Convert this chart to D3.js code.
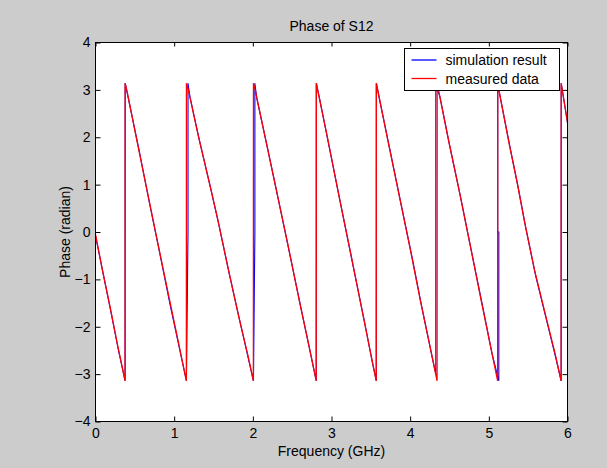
<!DOCTYPE html>
<html>
<head>
<meta charset="utf-8">
<script src="https://cdn.jsdelivr.net/npm/d3@7"></script>
<style>
  body { margin: 0; background: #cccccc; }
  svg { display: block; }
  text { font-family: "Liberation Sans", Arial, sans-serif; font-size: 14px; fill: #000; }
</style>
</head>
<body>
<svg id="chart" width="607" height="468"></svg>
<script>
// measured data (red), frequency in GHz / phase in radian
var measFreq = [0, 0.09, 0.19, 0.28, 0.376,
  0.377, 0.40, 0.52, 0.66, 0.80, 0.94, 1.05, 1.155,
  1.156, 1.18, 1.30, 1.45, 1.55, 1.68, 1.82, 1.93, 2.007,
  2.008, 2.03, 2.15, 2.30, 2.45, 2.60, 2.72, 2.806,
  2.807, 2.83, 2.95, 3.10, 3.25, 3.40, 3.50, 3.569,
  3.570, 3.59, 3.72, 3.86, 4.00, 4.13, 4.25, 4.342,
  4.343, 4.36, 4.48, 4.62, 4.76, 4.90, 5.02, 5.112,
  5.113, 5.13, 5.26, 5.36, 5.45, 5.58, 5.72, 5.84, 5.919,
  5.920, 6.0];
var measPhase = [-0.05, -0.82, -1.62, -2.38, -3.14,
  3.14, 2.98, 1.98, 0.84, -0.30, -1.42, -2.30, -3.14,
  3.14, 3.00, 2.08, 1.02, 0.30, -0.72, -1.78, -2.55, -3.14,
  3.14, 3.00, 2.05, 0.88, -0.30, -1.52, -2.45, -3.14,
  3.14, 2.95, 1.98, 0.72, -0.50, -1.75, -2.58, -3.14,
  3.14, 2.98, 1.90, 0.78, -0.35, -1.45, -2.40, -3.14,
  3.14, 3.00, 2.00, 0.90, -0.25, -1.42, -2.40, -3.14,
  3.14, 2.98, 1.85, 1.05, 0.25, -0.80, -1.75, -2.55, -3.14,
  3.14, 2.32];

// simulation result (blue)
var simFreq = [0, 0.10, 0.20, 0.29, 0.376,
  0.377, 0.42, 0.55, 0.68, 0.82, 0.95, 1.07, 1.156,
  1.176, 1.176, 1.20, 1.32, 1.47, 1.57, 1.70, 1.84, 1.95, 2.008,
  2.026, 2.026, 2.05, 2.17, 2.32, 2.47, 2.62, 2.74, 2.806,
  2.807, 2.85, 2.97, 3.12, 3.27, 3.42, 3.52, 3.569,
  3.570, 3.61, 3.74, 3.88, 4.02, 4.15, 4.27, 4.326,
  4.326, 4.326, 4.38, 4.50, 4.64, 4.78, 4.92, 5.04, 5.127,
  5.127, 5.113, 5.113, 5.15, 5.28, 5.38, 5.47, 5.60, 5.74, 5.86, 5.919,
  5.920, 6.0];
var simPhase = [-0.08, -0.90, -1.72, -2.48, -3.14,
  3.14, 2.80, 1.76, 0.66, -0.47, -1.55, -2.48, -3.14,
  0, 3.14, 2.86, 1.94, 0.88, 0.14, -0.88, -1.92, -2.72, -3.14,
  0, 3.14, 2.82, 1.90, 0.72, -0.47, -1.67, -2.62, -3.14,
  3.14, 2.80, 1.80, 0.56, -0.68, -1.90, -2.76, -3.14,
  3.14, 2.80, 1.76, 0.62, -0.50, -1.60, -2.56, -3.00,
  0, 3.14, 2.84, 1.84, 0.74, -0.42, -1.56, -2.56, -3.14,
  0, 0, 3.14, 2.80, 1.70, 0.88, 0.08, -0.96, -1.90, -2.72, -3.14,
  3.14, 2.30];

var xTicks = [0, 1, 2, 3, 4, 5, 6];
var yTicks = [-4, -3, -2, -1, 0, 1, 2, 3, 4];
var legendLabels = ['simulation result', 'measured data'];

var svg = d3.select('#chart');
var axL = 95.5, axR = 567.5, axT = 42.5, axB = 421.5;

var xScale = d3.scaleLinear().domain([0, 6]).range([axL, axR]);
var yScale = d3.scaleLinear().domain([-4, 4]).range([axB, axT]);

svg.append('rect')
  .attr('x', axL).attr('y', axT)
  .attr('width', axR - axL).attr('height', axB - axT)
  .attr('fill', '#fff');

var line = d3.line()
  .x(function(d){ return xScale(d[0]); })
  .y(function(d){ return yScale(d[1]); });

var sim = simFreq.map(function(f, i){ return [f, simPhase[i]]; });
var meas = measFreq.map(function(f, i){ return [f, measPhase[i]]; });

svg.append('path').datum(sim)
  .attr('d', line)
  .attr('fill', 'none')
  .attr('stroke', '#0000ff')
  .attr('stroke-width', 1.1);

svg.append('path').datum(meas)
  .attr('d', line)
  .attr('fill', 'none')
  .attr('stroke', '#ff0000')
  .attr('stroke-width', 1.3);

// axes, ticks pointing inward like matlab
var gx = svg.append('g').attr('transform', 'translate(0,' + axB + ')')
  .call(d3.axisBottom(xScale).tickValues(xTicks).tickSize(-5).tickPadding(7).tickFormat(d3.format('d')));
var gy = svg.append('g').attr('transform', 'translate(' + axL + ',0)')
  .call(d3.axisLeft(yScale).tickValues(yTicks).tickSize(-5).tickPadding(5).tickFormat(d3.format('d')));
var gt = svg.append('g').attr('transform', 'translate(0,' + axT + ')')
  .call(d3.axisTop(xScale).tickValues(xTicks).tickSize(-4).tickFormat(''));
var gr = svg.append('g').attr('transform', 'translate(' + axR + ',0)')
  .call(d3.axisRight(yScale).tickValues(yTicks).tickSize(-5).tickFormat(''));

[gx, gy, gt, gr].forEach(function(g){
  g.select('.domain').remove();
  g.selectAll('line').attr('stroke', '#000');
  g.selectAll('text').style('font-family', '"Liberation Sans", Arial, sans-serif').style('font-size', '14px').attr('fill', '#000');
});

svg.append('rect')
  .attr('x', axL).attr('y', axT)
  .attr('width', axR - axL).attr('height', axB - axT)
  .attr('fill', 'none').attr('stroke', '#000');

svg.append('text')
  .attr('x', (axL + axR) / 2).attr('y', 31)
  .attr('text-anchor', 'middle')
  .text('Phase of S12');

svg.append('text')
  .attr('x', (axL + axR) / 2).attr('y', 456)
  .attr('text-anchor', 'middle')
  .text('Frequency (GHz)');

svg.append('text')
  .attr('transform', 'translate(70,' + ((axT + axB) / 2) + ') rotate(-90)')
  .attr('text-anchor', 'middle')
  .text('Phase (radian)');

// legend
var legend = svg.append('g').attr('transform', 'translate(404.5,48.5)');
legend.append('rect')
  .attr('width', 155).attr('height', 42)
  .attr('fill', '#fff').attr('stroke', '#000');
var colors = ['#0000ff', '#ff0000'];
legendLabels.forEach(function(lab, i){
  var yy = 11.5 + i * 18.5;
  legend.append('line')
    .attr('x1', 7).attr('x2', 32).attr('y1', yy).attr('y2', yy)
    .attr('stroke', colors[i]).attr('stroke-width', 1.3);
  legend.append('text')
    .attr('x', 41).attr('y', yy + 5)
    .text(lab);
});
</script>
</body>
</html>
